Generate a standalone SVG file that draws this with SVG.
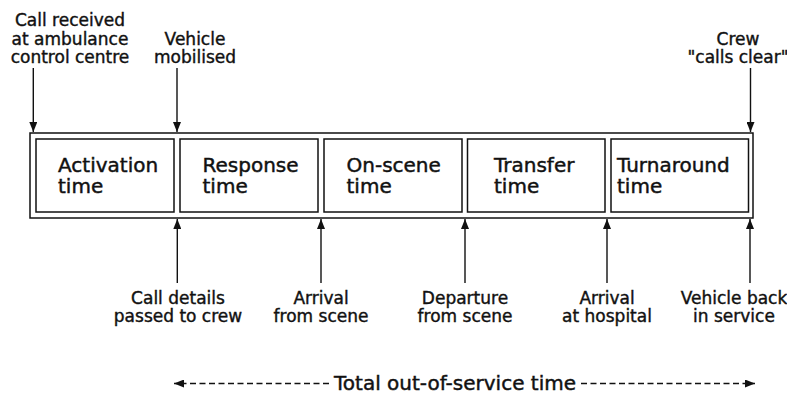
<svg xmlns="http://www.w3.org/2000/svg" width="787" height="394" viewBox="0 0 787 394">
<style>
  .box { fill: #fff; stroke: #111; stroke-width: 1.5; }
  .outer { fill: #fff; stroke: #111; stroke-width: 1.5; }
  .blabel { font-family: "DejaVu Sans", sans-serif; font-size: 20px; fill: #111; stroke: #111; stroke-width: 0.45; }
  .elabel { font-family: "DejaVu Sans", sans-serif; font-size: 17px; fill: #111; stroke: #111; stroke-width: 0.4; text-anchor: middle; }
  .conn { stroke: #111; stroke-width: 1.4; fill: none; }
  .dash { stroke: #111; stroke-width: 1.3; fill: none; stroke-dasharray: 6 3.5; }
</style>
<defs>
  <marker id="ah" viewBox="0 0 10 8" refX="10" refY="4" markerWidth="10" markerHeight="8" markerUnits="userSpaceOnUse" orient="auto">
    <path d="M0,0 L10,4 L0,8 z" fill="#111"/>
  </marker>
</defs>
<rect width="787" height="394" fill="#fff"/>

<g id="outer-box">
  <rect class="outer" x="30" y="133" width="723" height="85"/>
</g>

<g id="activation">
  <rect class="box" x="36" y="139" width="138" height="73"/>
  <text class="blabel" x="58" y="171.5">Activation</text>
  <text class="blabel" x="58" y="192.5">time</text>
</g>
<g id="response">
  <rect class="box" x="180" y="139" width="138" height="73"/>
  <text class="blabel" x="202.5" y="171.5">Response</text>
  <text class="blabel" x="202.5" y="192.5">time</text>
</g>
<g id="on-scene">
  <rect class="box" x="324" y="139" width="138" height="73"/>
  <text class="blabel" x="346.5" y="171.5">On-scene</text>
  <text class="blabel" x="346.5" y="192.5">time</text>
</g>
<g id="transfer">
  <rect class="box" x="467.5" y="139" width="137.5" height="73"/>
  <text class="blabel" x="494" y="171.5">Transfer</text>
  <text class="blabel" x="494" y="192.5">time</text>
</g>
<g id="turnaround">
  <rect class="box" x="611" y="139" width="137.5" height="73"/>
  <text class="blabel" x="617" y="171.5">Turnaround</text>
  <text class="blabel" x="617" y="192.5">time</text>
</g>

<g id="ev-call-received">
  <text class="elabel" x="70" y="26">Call received</text>
  <text class="elabel" x="70" y="44.5">at ambulance</text>
  <text class="elabel" x="70" y="63">control centre</text>
</g>
<g id="ev-vehicle-mobilised">
  <text class="elabel" x="195" y="44.5">Vehicle</text>
  <text class="elabel" x="195" y="63">mobilised</text>
</g>
<g id="ev-crew-calls-clear">
  <text class="elabel" x="738" y="44.5">Crew</text>
  <text class="elabel" x="738" y="63">"calls clear"</text>
</g>
<g id="ev-call-details">
  <text class="elabel" x="178" y="304">Call details</text>
  <text class="elabel" x="178" y="322">passed to crew</text>
</g>
<g id="ev-arrival-scene">
  <text class="elabel" x="321" y="304">Arrival</text>
  <text class="elabel" x="321" y="322">from scene</text>
</g>
<g id="ev-departure-scene">
  <text class="elabel" x="465" y="304">Departure</text>
  <text class="elabel" x="465" y="322">from scene</text>
</g>
<g id="ev-arrival-hospital">
  <text class="elabel" x="607" y="304">Arrival</text>
  <text class="elabel" x="607" y="322">at hospital</text>
</g>
<g id="ev-back-in-service">
  <text class="elabel" x="734" y="304">Vehicle back</text>
  <text class="elabel" x="734" y="322">in service</text>
</g>
<g id="total-label">
  <text class="blabel" x="455" y="389.5" text-anchor="middle">Total out-of-service time</text>
</g>

<g id="connectors">
  <line class="conn" x1="33.3" y1="68" x2="33.3" y2="132" marker-end="url(#ah)"/>
  <line class="conn" x1="177" y1="68" x2="177" y2="132" marker-end="url(#ah)"/>
  <line class="conn" x1="750.5" y1="68" x2="750.5" y2="132" marker-end="url(#ah)"/>
  <line class="conn" x1="177.3" y1="283" x2="177.3" y2="219" marker-end="url(#ah)"/>
  <line class="conn" x1="321" y1="283" x2="321" y2="219" marker-end="url(#ah)"/>
  <line class="conn" x1="465" y1="283" x2="465" y2="219" marker-end="url(#ah)"/>
  <line class="conn" x1="607" y1="283" x2="607" y2="219" marker-end="url(#ah)"/>
  <line class="conn" x1="750" y1="283" x2="750" y2="219" marker-end="url(#ah)"/>
  <line class="dash" x1="329" y1="383.5" x2="174" y2="383.5" marker-end="url(#ah)"/>
  <line class="dash" x1="581" y1="383.5" x2="755" y2="383.5" marker-end="url(#ah)"/>
</g>
</svg>
